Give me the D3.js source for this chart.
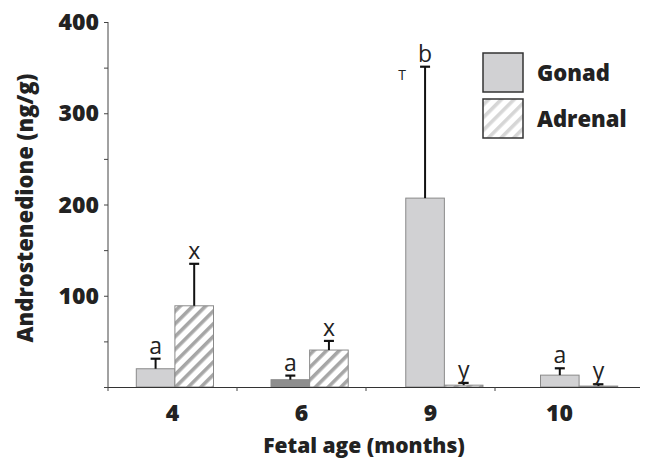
<!DOCTYPE html>
<html><head><meta charset="utf-8">
<script src="https://cdn.jsdelivr.net/npm/d3@7"></script>
<style>body{margin:0;background:#fff}svg{display:block}text{font-family:"Open Sans",sans-serif}</style>
</head><body><svg id="c" width="646" height="459"></svg>
<script>
const categories = ["4","6","9","10"];
const series = ["Gonad","Adrenal"];
const gonad = [20, 8, 207, 13];
const gonadErr = [31, 12.5, 351, 20.5];
const adrenal = [89, 40.5, 2, 1];
const adrenalErr = [135, 50.5, 4.5, 3];
const gonadLetters = ["a","a","b","a"];
const adrenalLetters = ["x","x","y","y"];
const yTicks = [100,200,300,400];
const yMinor = [50,150,250,350];

const svg = d3.select("#c");
const y = d3.scaleLinear().domain([0,400]).range([387,22]);
const xAxisScale = d3.scaleBand().domain(categories).range([108,624]);
const xGroup = d3.scaleBand().domain(categories).range([108,646]).paddingInner(0.427).paddingOuter(0.21);
const xSub = d3.scaleBand().domain(series).range([0, xGroup.bandwidth()]);

const defs = svg.append("defs");
function hatch(id, color){
  const p = defs.append("pattern").attr("id",id).attr("patternUnits","userSpaceOnUse")
    .attr("width",9).attr("height",9).attr("patternTransform","rotate(45)");
  p.append("rect").attr("width",9).attr("height",9).attr("fill","#fff");
  p.append("rect").attr("x",0).attr("width",3.6).attr("height",9).attr("fill",color);
}
hatch("hatchBar","#a6a6a6");
hatch("hatchLeg","#d6d6d6");

// y axis
const ya = svg.append("g").attr("transform","translate(108,0)");
ya.append("line").attr("y1",y(400)).attr("y2",y(0)).attr("stroke","#444").attr("stroke-width",1);
ya.selectAll("line.t").data(yTicks.concat(yMinor,[0])).enter().append("line").attr("class","t")
  .attr("x1",-4).attr("x2",0).attr("y1",d=>y(d)+0.5).attr("y2",d=>y(d)+0.5).attr("stroke","#444");
ya.selectAll("text").data(yTicks).enter().append("text")
  .attr("x",-9).attr("y",d=>y(d)).attr("dy","0.35em").attr("text-anchor","end")
  .attr("font-size",23).attr("font-weight","800").attr("fill","#222").text(d=>d);

// bars
const g = svg.append("g");
categories.forEach((c,i)=>{
  const x0 = xGroup(c);
  const gx = x0 + xSub("Gonad"), ax = x0 + xSub("Adrenal"), w = xSub.bandwidth();
  g.append("rect").attr("x",gx).attr("y",y(gonad[i])).attr("width",w).attr("height",y(0)-y(gonad[i]))
    .attr("fill", i===1 ? "#8e8e8e" : "#d1d1d3").attr("stroke","#8a8a8a").attr("stroke-width",1);
  g.append("rect").attr("x",ax).attr("y",y(adrenal[i])).attr("width",w).attr("height",y(0)-y(adrenal[i]))
    .attr("fill","url(#hatchBar)").attr("stroke","#8a8a8a").attr("stroke-width",1);
  [[gx,gonad[i],gonadErr[i],gonadLetters[i]],[ax,adrenal[i],adrenalErr[i],adrenalLetters[i]]].forEach(([bx,v,e,l])=>{
    const cx = bx + w/2;
    g.append("line").attr("x1",cx).attr("x2",cx).attr("y1",y(v)).attr("y2",y(e)).attr("stroke","#111").attr("stroke-width",2);
    g.append("line").attr("x1",cx-5).attr("x2",cx+5).attr("y1",y(e)).attr("y2",y(e)).attr("stroke","#111").attr("stroke-width",2.2);
    g.append("text").attr("x",cx).attr("y",y(e)-5).attr("text-anchor","middle")
      .attr("font-size",23).attr("fill","#222").text(l);
  });
});
svg.append("text").attr("x",402).attr("y",80).attr("text-anchor","middle").attr("font-size",14).attr("fill","#222").text("T");

// x axis
const xa = svg.append("g");
xa.append("line").attr("x1",108).attr("x2",640).attr("y1",387.5).attr("y2",387.5).attr("stroke","#333").attr("stroke-width",1.2);
xa.selectAll("line.t").data(categories).enter().append("line").attr("class","t")
  .attr("x1",d=>xAxisScale(d)).attr("x2",d=>xAxisScale(d)).attr("y1",387).attr("y2",391).attr("stroke","#444");
xa.selectAll("text").data(categories).enter().append("text")
  .attr("x",d=>xAxisScale(d)+xAxisScale.bandwidth()/2).attr("y",421).attr("text-anchor","middle")
  .attr("font-size",23).attr("font-weight","800").attr("fill","#222").text(d=>d);

svg.append("text").attr("x",364).attr("y",453).attr("text-anchor","middle")
  .attr("font-size",21).attr("font-weight","800").attr("fill","#222").text("Fetal age (months)");
svg.append("text").attr("transform","translate(33,208) rotate(-90)").attr("text-anchor","middle")
  .attr("font-size",22).attr("font-weight","800").attr("fill","#222").text("Androstenedione (ng/g)");

// legend
const lg = svg.append("g");
series.forEach((s,i)=>{
  const yy = 53 + i*46;
  lg.append("rect").attr("x",483).attr("y",yy).attr("width",40).attr("height",39)
    .attr("fill", i===0 ? "#d1d1d3" : "url(#hatchLeg)").attr("stroke","#333").attr("stroke-width",1.5);
  lg.append("text").attr("x",537).attr("y",yy+20).attr("dy","0.35em").attr("font-size",22)
    .attr("font-weight","800").attr("fill","#222").text(s);
});
</script></body></html>
